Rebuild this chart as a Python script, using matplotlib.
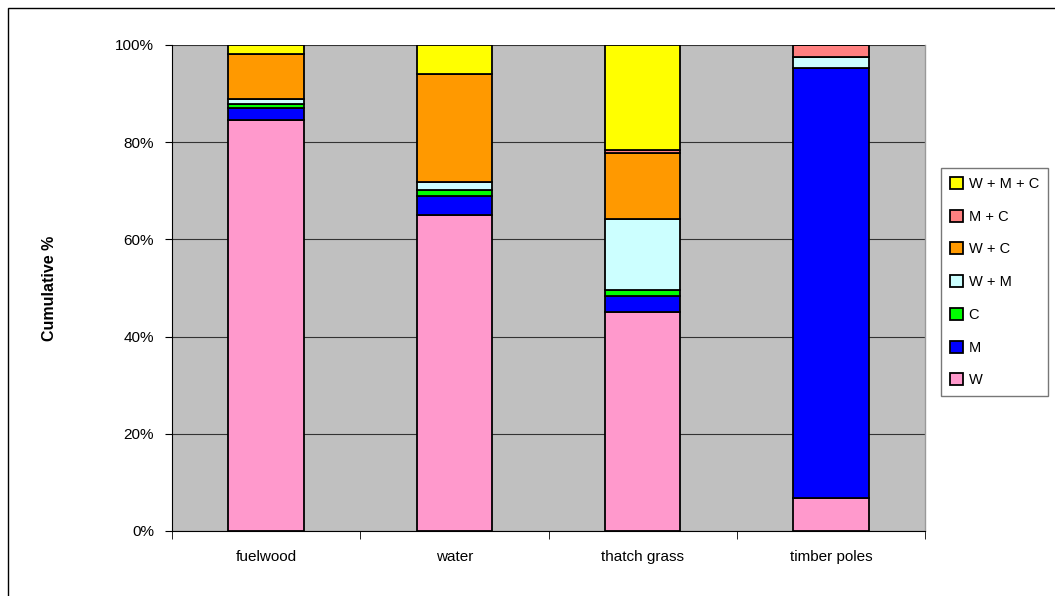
import matplotlib.pyplot as plt
import matplotlib.patches as mpatches
import numpy as np

plt.rcParams['font.family'] = ['Liberation Sans', 'DejaVu Sans']

# resource categories and share (%) of each collection source
resources = ['fuelwood', 'water', 'thatch grass', 'timber poles']
sources = ['W', 'M', 'C', 'W + M', 'W + C', 'M + C', 'W + M + C']
W     = [84.5, 65.0, 45.1, 6.7]
M     = [2.5, 3.9, 3.3, 88.5]
C     = [0.9, 1.3, 1.2, 0.0]
W_M   = [0.9, 1.6, 14.6, 2.4]
W_C   = [9.4, 22.2, 13.5, 0.0]
M_C   = [0.0, 0.0, 0.7, 2.4]
W_M_C = [1.8, 6.0, 21.6, 0.0]
series = [W, M, C, W_M, W_C, M_C, W_M_C]
colors = ['#FF99CC', '#0000FF', '#00FF00', '#CCFFFF', '#FF9900', '#FF8080', '#FFFF00']

fig = plt.figure(figsize=(10.55, 5.96), dpi=100)
ax = fig.add_axes([172/1055, 1-531/596, (925-172)/1055, (531-45)/596])
ax.set_facecolor('#C0C0C0')

x = np.arange(len(resources))
bottom = np.zeros(len(resources))
handles = []
for vals, col, lab in zip(series, colors, sources):
    vals = np.array(vals)
    b = ax.bar(x, vals, width=0.4, bottom=bottom, color=col, edgecolor='black',
               linewidth=1.3, label=lab, zorder=3)
    bottom += vals
    handles.append(b)

ax.set_xlim(-0.5, len(resources) - 0.5)
ax.set_ylim(0, 100)
ax.set_yticks(np.arange(0, 101, 20))
ax.set_yticklabels(['%d%%' % v for v in range(0, 101, 20)], fontsize=11)
ax.yaxis.grid(True, color='#333333', linewidth=0.8, zorder=0)
ax.set_axisbelow(True)

# category labels centred on bars, tick marks between categories
ax.set_xticks(x)
ax.set_xticklabels(resources, fontsize=11)
ax.tick_params(axis='x', length=0, pad=14)
ax.set_xticks(np.arange(-0.5, len(resources)), minor=True)
ax.tick_params(axis='x', which='minor', length=6, direction='out', color='black')
ax.tick_params(axis='y', length=5, direction='out', pad=8)

ax.spines['top'].set_visible(False)
ax.spines['right'].set_color('#999999')
ax.spines['right'].set_linewidth(1.0)
ax.spines['left'].set_color('black')
ax.spines['bottom'].set_color('black')

ax.set_ylabel('Cumulative %', fontsize=11.5, fontweight='bold', labelpad=42)

leg = fig.legend(handles[::-1], sources[::-1], loc='upper left',
                 bbox_to_anchor=(941/1055, 1-168/596), frameon=True,
                 fancybox=False, edgecolor='#555555', fontsize=10.5,
                 handlelength=0.9, handleheight=0.9, handletextpad=0.4,
                 labelspacing=1.28, borderpad=0.6, borderaxespad=0)
leg.get_frame().set_linewidth(1.0)
for h in leg.legend_handles:
    h.set_linewidth(1.3)

# outer chart border
fig.patches.append(mpatches.Rectangle((8/1055, -0.1), 1.1, 1 - 8/596 + 0.1,
                                      transform=fig.transFigure, fill=False,
                                      edgecolor='black', linewidth=1.0))

fig.savefig('out.png', dpi=100)
